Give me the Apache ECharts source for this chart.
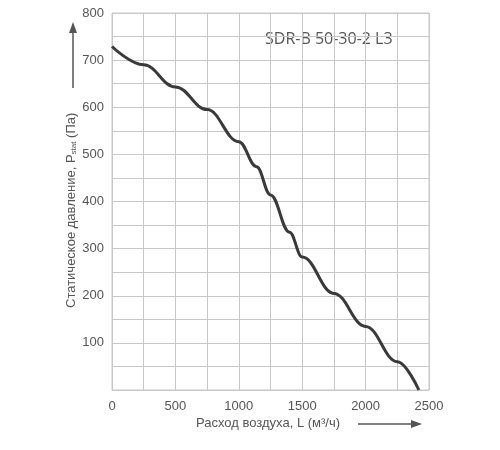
<!DOCTYPE html>
<html>
<head>
<meta charset="utf-8">
<script src="https://cdn.jsdelivr.net/npm/echarts@6/dist/echarts.min.js"></script>
<style>html,body{margin:0;background:#fff}#c{width:500px;height:450px}</style>
</head>
<body>
<div id="c"></div>
<script>
// расход воздуха, м3/ч
const flow = [0, 250, 500, 750, 1000, 1140, 1250, 1400, 1500, 1750, 2000, 2250, 2420];
// статическое давление, Па
const pressure = [729, 690, 643, 595, 527, 474, 414, 335, 282, 205, 135, 60, 0];
const modelName = "SDR-B 50-30-2 L3";

const chart = echarts.init(document.getElementById("c"));
const grey = "#555";
chart.setOption({
  animation: false,
  grid: { left: 112, top: 13, right: 71, bottom: 60 },
  xAxis: {
    type: "value", min: 0, max: 2500, interval: 250,
    axisLine: { show: false }, axisTick: { show: false },
    splitLine: { lineStyle: { color: "#c8c8c8", width: 1 } },
    axisLabel: {
      color: grey, fontFamily: "Liberation Sans", fontSize: 13, margin: 10,
      formatter: v => (v % 500 === 0 ? v : "")
    }
  },
  yAxis: {
    type: "value", min: 0, max: 800, interval: 50,
    axisLine: { show: false }, axisTick: { show: false },
    splitLine: { lineStyle: { color: "#c8c8c8", width: 1 } },
    axisLabel: {
      color: grey, fontFamily: "Liberation Sans", fontSize: 13, margin: 8,
      formatter: v => (v % 100 === 0 && v > 0 ? v : "")
    }
  },
  series: [{
    type: "line", smooth: 0.4, smoothMonotone: "x", symbol: "none",
    lineStyle: { color: "#3a3a3a", width: 3 },
    data: flow.map((f, i) => [f, pressure[i]])
  }],
  graphic: [
    // рамка графика
    { type: "rect", shape: { x: 112, y: 13, width: 317, height: 377 }, style: { fill: "none", stroke: "#c8c8c8", lineWidth: 1 } },
    // подпись модели
    { type: "rect", shape: { x: 255, y: 28, width: 150, height: 26 }, style: { fill: "#fff" } },
    { type: "text", x: 265, y: 31, style: { text: modelName, fill: grey, font: "16px 'Open Sans'" } },
    // подпись оси Y
    {
      type: "text", x: 64, y: 308, rotation: Math.PI / 2,
      style: {
        text: "{a|Статическое давление, P}{s|stat}{a| (Па)}",
        rich: {
          a: { fill: grey, font: "13px 'Liberation Sans'" },
          s: { fill: grey, font: "8px 'Liberation Sans'", padding: [6, 0, 0, 0] }
        }
      }
    },
    { type: "line", shape: { x1: 73, y1: 88, x2: 73, y2: 32 }, style: { stroke: grey, lineWidth: 1.5 } },
    { type: "polygon", shape: { points: [[73, 22], [69, 33], [77, 33]] }, style: { fill: grey } },
    // подпись оси X
    { type: "text", x: 196, y: 417, style: { text: "Расход воздуха, L (м³/ч)", fill: grey, font: "13px 'Liberation Sans'" } },
    { type: "line", shape: { x1: 358, y1: 424, x2: 412, y2: 424 }, style: { stroke: grey, lineWidth: 1.5 } },
    { type: "polygon", shape: { points: [[422, 424], [411, 420], [411, 428]] }, style: { fill: grey } }
  ]
});
</script>
</body>
</html>
